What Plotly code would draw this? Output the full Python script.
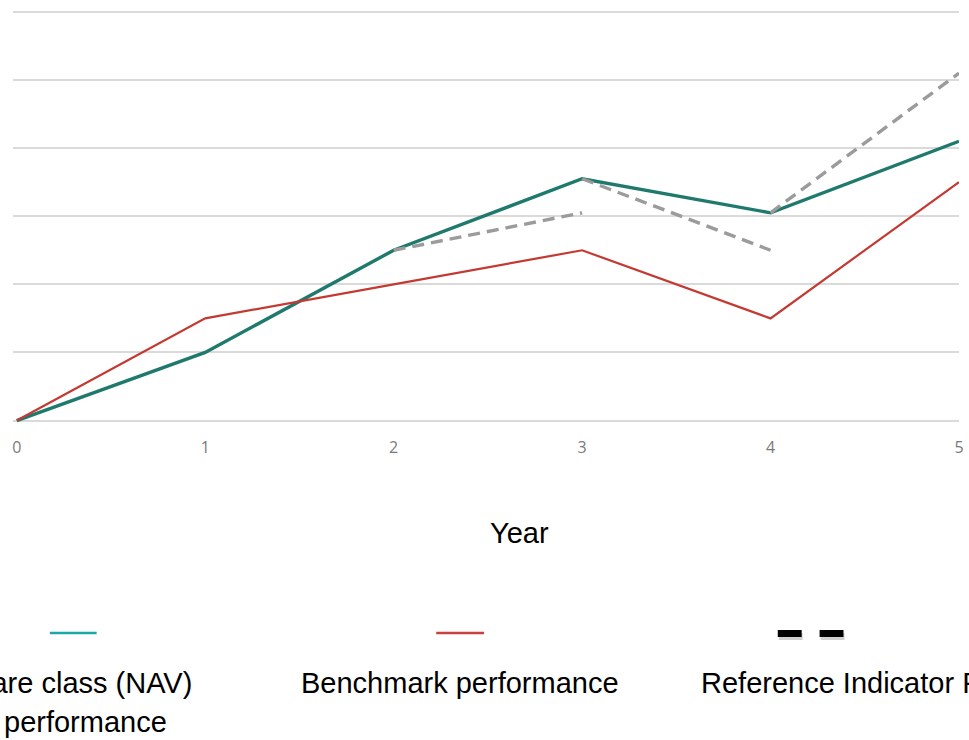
import plotly.graph_objects as go

# Performance index by year (values in gridline units)
years = [0, 1, 2, 3, 4, 5]
share_class = [0, 1.0, 2.5, 3.55, 3.05, 4.1]
benchmark = [0, 1.5, 2.0, 2.5, 1.5, 3.5]

# Reference indicator: one-year projections starting from the share class value
ref_x = [2, 3, None, 3, 4, None, 4, 5]
ref_y = [2.5, 3.05, None, 3.55, 2.5, None, 3.05, 5.1]

tick_labels = ["0", "1", "2", "3", "4", "5"]

W, H = 969, 740
L, R, T, B = 13, 6, 5, 316
PW, PH = W - L - R, H - T - B


def px(x):
    return (x - L) / PW


def py(y):
    return (H - B - y) / PH


TEAL = "#1f7a6d"
RED = "#c43a33"
GREY = "#9b9b9b"
TEXT_FONT = "Arial, 'Liberation Sans', sans-serif"

fig = go.Figure()
fig.add_trace(go.Scatter(x=years, y=share_class, mode="lines",
                         line=dict(color=TEAL, width=3.4), hoverinfo="skip"))
fig.add_trace(go.Scatter(x=years, y=benchmark, mode="lines",
                         line=dict(color=RED, width=2.2), hoverinfo="skip"))
fig.add_trace(go.Scatter(x=ref_x, y=ref_y, mode="lines", connectgaps=False,
                         line=dict(color=GREY, width=3.4, dash="12px,7px"),
                         hoverinfo="skip"))

fig.update_xaxes(range=[-0.02, 5.0], tickvals=years, ticktext=tick_labels,
                 showgrid=False, zeroline=False, showline=False, ticks="",
                 tickfont=dict(family="'Open Sans', sans-serif", size=16, color="#7a7a7a"),
                 ticklabelstandoff=12)
fig.update_yaxes(range=[-0.05, 6.1], dtick=1, tick0=0, showgrid=True,
                 gridcolor="#dadada", gridwidth=1.5, zeroline=False,
                 showline=False, showticklabels=False, ticks="")

annotations = [
    dict(text="Year", x=px(522), y=py(533), xanchor="center", yanchor="middle",
         font=dict(size=29, color="#000000")),
    dict(text="Share class (NAV)", x=px(195), y=py(683), xanchor="right", yanchor="middle",
         font=dict(size=29, color="#000000")),
    dict(text="performance", x=px(86), y=py(722), xanchor="center", yanchor="middle",
         font=dict(size=29, color="#000000")),
    dict(text="Benchmark performance", x=px(462), y=py(683), xanchor="center", yanchor="middle",
         font=dict(size=29, color="#000000")),
    dict(text="Reference Indicator Performance", x=px(702), y=py(683), xanchor="left",
         yanchor="middle", font=dict(size=29, color="#000000")),
]
for a in annotations:
    a.update(xref="paper", yref="paper", showarrow=False)
    a["font"]["family"] = TEXT_FONT

shapes = [
    # legend keys
    dict(type="line", x0=px(50), x1=px(97), y0=py(633), y1=py(633),
         line=dict(color="#1aa8a8", width=2.5)),
    dict(type="line", x0=px(438), x1=px(486), y0=py(633), y1=py(633),
         line=dict(color="#c9413e", width=2.5)),
    dict(type="rect", x0=px(782), x1=px(806), y0=py(633), y1=py(640),
         fillcolor="rgba(120,120,120,0.35)", line=dict(width=0)),
    dict(type="rect", x0=px(824), x1=px(848), y0=py(633), y1=py(640),
         fillcolor="rgba(120,120,120,0.35)", line=dict(width=0)),
    dict(type="rect", x0=px(781), x1=px(805), y0=py(630), y1=py(637),
         fillcolor="#000000", line=dict(width=0)),
    dict(type="rect", x0=px(823), x1=px(847), y0=py(630), y1=py(637),
         fillcolor="#000000", line=dict(width=0)),
]
for s in shapes:
    s.update(xref="paper", yref="paper", layer="above")

fig.update_layout(
    width=W, height=H,
    margin=dict(l=L, r=R, t=T, b=B),
    paper_bgcolor="#ffffff", plot_bgcolor="#ffffff",
    showlegend=False,
    annotations=annotations,
    shapes=shapes,
)

fig.write_html("out.html")
